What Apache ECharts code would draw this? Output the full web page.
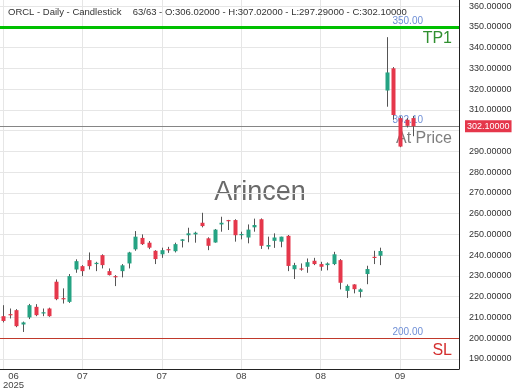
<!DOCTYPE html>
<html><head><meta charset="utf-8">
<script src="https://cdn.jsdelivr.net/npm/echarts@6/dist/echarts.min.js"></script>
<style>html,body{margin:0;padding:0;background:#fff}#c{width:520px;height:390px}</style>
</head><body><div id="c"></div>
<script>
// ---- data ----
const opens  = [210.6,211.6,213.5,206.6,210.0,215.1,211.9,214.3,227.2,219.3,217.5,233.1,234.7,237.6,235.7,240.0,232.3,229.9,232.3,236.0,
                242.8,248.3,246.0,242.1,240.4,242.9,241.9,246.9,249.6,250.0,255.6,248.1,246.1,254.8,256.9,256.9,249.6,248.5,253.4,257.3,
                244.1,246.9,246.5,249.3,233.2,233.6,234.4,237.3,235.7,235.2,235.7,237.6,222.8,225.9,222.3,230.9,239.2,239.7,319.3,330.0,
                306.0,305.2,306.02];
const highs  = [215.9,214.3,214.0,208.0,216.5,216.4,214.3,214.7,228.3,224.0,230.9,238.0,235.2,241.3,236.8,240.4,233.6,230.4,235.7,241.6,
                251.6,250.0,246.8,242.4,243.6,244.0,246.0,247.7,253.2,251.3,260.4,248.6,252.6,258.5,257.0,257.3,251.3,254.8,257.6,257.7,
                248.9,250.5,248.9,249.7,236.3,236.0,238.4,238.7,236.8,236.5,241.6,238.1,225.9,226.0,224.0,234.9,242.1,243.6,345.0,330.6,
                306.9,306.0,307.02];
const lows   = [207.6,209.5,205.3,203.0,209.2,210.6,210.6,210.3,218.3,216.7,217.0,231.5,229.9,233.1,232.3,233.6,230.2,225.1,229.3,233.6,
                242.1,244.9,242.9,235.7,238.7,241.1,241.3,243.7,246.2,246.0,253.4,242.4,246.0,251.3,252.1,246.5,247.6,245.7,251.3,243.0,
                242.8,243.5,243.8,232.3,228.5,232.5,231.5,235.2,232.5,232.7,235.2,223.5,219.4,221.6,219.6,226.0,235.7,235.2,311.5,305.2,
                292.0,301.5,297.29];
const closes = [208.3,211.3,205.8,207.6,215.9,211.1,212.5,210.6,218.8,219.0,229.9,237.1,232.3,234.7,236.3,235.2,230.4,229.4,235.1,241.3,
                248.9,245.3,243.6,238.1,242.4,242.4,245.3,247.6,250.5,250.8,254.0,244.5,252.3,255.6,256.6,249.6,250.2,252.3,254.5,244.5,
                244.9,248.5,248.9,234.8,235.2,233.1,236.6,235.7,234.4,236.0,240.4,226.7,225.2,223.6,223.5,233.3,238.7,242.0,328.0,307.5,
                292.3,302.3,302.10];
const tickIndex = [0, 12, 24, 36, 48, 60];
const tickText  = ['06', '07', '07', '08', '08', '09'];
const firstYear = '2025';
const levelValues = [350, 200];
const levelNames  = ['TP1', 'SL'];
const priceName   = 'At Price';
const symbolName  = 'ORCL';
const periodName  = 'Daily';
const chartKind   = 'Candlestick';
const watermark   = 'Arincen';

// ---- derived ----
const n = closes.length;
const last = n - 1;
const lastPrice = closes[last];
const candleData = closes.map((c, i) => [i, opens[i], c, lows[i], highs[i]]);
const f5 = v => v.toFixed(5);
const infoText = `${n}/${n} - O:${f5(opens[last])} - H:${f5(highs[last])} - L:${f5(lows[last])} - C:${f5(lastPrice)}`;

const FONT = 'Liberation Sans';
const GREEN = '#25a383', RED = '#e5374b', WICK = '#555';

function renderCandle(params, api) {
  const i = api.value(0), o = api.value(1), c = api.value(2), l = api.value(3), h = api.value(4);
  const pO = api.coord([i, o]), pC = api.coord([i, c]), pL = api.coord([i, l]), pH = api.coord([i, h]);
  const cx = Math.round(pO[0]);
  const top = Math.min(pO[1], pC[1]), bot = Math.max(pO[1], pC[1]);
  return {
    type: 'group',
    children: [
      { type: 'line', shape: { x1: cx + 0.5, y1: pH[1], x2: cx + 0.5, y2: pL[1] }, style: { stroke: WICK, lineWidth: 1 } },
      { type: 'rect', shape: { x: cx - 1.5, y: top, width: 4, height: Math.max(bot - top, 1.2) },
        style: { fill: c >= o ? GREEN : RED } }
    ]
  };
}

// label-only items get a fully transparent stroke (labels stay visible)
const CLEAR = 'rgba(0,0,0,0)';

function levelSeries(v, name, lineColor, nameColor, lineWidth, extra) {
  const items = [
    { yAxis: v, lineStyle: { color: lineColor, width: lineWidth, type: 'solid' },
      label: { show: true, position: 'insideEndTop', formatter: v.toFixed(2),
        color: '#6f8fd6', fontSize: 10, fontFamily: FONT, distance: [36, 1] } },
    { yAxis: v, lineStyle: { color: CLEAR, width: 1, type: 'solid' },
      label: { show: true, position: 'insideEndBottom', formatter: name,
        color: nameColor, fontSize: 16, fontFamily: FONT, distance: [7, 4] } }
  ];
  if (extra) items.push(extra);
  return {
    type: 'line', data: [], silent: true, color: lineColor,
    markLine: { silent: true, symbol: ['none', 'none'], animation: false, data: items }
  };
}

const priceTag = { yAxis: lastPrice, lineStyle: { color: CLEAR, width: 1, type: 'solid' },
  label: { show: true, position: 'end', formatter: f5(lastPrice), color: '#fff', backgroundColor: RED,
    fontSize: 9, fontFamily: FONT, padding: [2, 2, 1, 2], distance: [6, 0] } };

const chart = echarts.init(document.getElementById('c'), null, { renderer: 'canvas' });
chart.setOption({
  animation: false,
  backgroundColor: '#fff',
  title: [
    { text: `${symbolName} - ${periodName} - ${chartKind}`, left: 8, top: 7, padding: 0,
      textStyle: { fontSize: 9.5, fontWeight: 'normal', color: '#333', fontFamily: FONT } },
    { text: infoText, left: 132.7, top: 7, padding: 0,
      textStyle: { fontSize: 9.5, fontWeight: 'normal', color: '#333', fontFamily: FONT } }
  ],
  graphic: [
    { type: 'text', x: 260, y: 193, z: 0, silent: true,
      style: { text: watermark, fontSize: 27, fontFamily: FONT, fill: '#6a6a6a', align: 'center', verticalAlign: 'middle' } }
  ],
  grid: { left: 0, right: 61, top: 0, bottom: 21, containLabel: false, outerBoundsMode: 'none' },
  xAxis: {
    type: 'value', min: -0.453, max: 68.91, minInterval: 12, maxInterval: 12, splitNumber: 6,
    axisLine: { show: true, onZero: false, lineStyle: { color: '#222', width: 1 } },
    axisTick: { show: false },
    splitLine: { show: true, showMinLine: false, showMaxLine: false, lineStyle: { color: '#e6e6e6', width: 1 } },
    axisLabel: {
      margin: 3, fontSize: 9.5, lineHeight: 9, color: '#444', fontFamily: FONT,
      showMinLabel: false, showMaxLabel: false,
      formatter: v => {
        const k = tickIndex.indexOf(Math.round(v));
        if (k < 0 || Math.abs(v - Math.round(v)) > 1e-6) return '';
        if (k === 0) return `{s|${tickText[0]}}\n{s|${firstYear}}`;
        return tickText[k];
      },
      rich: { s: { padding: [0, 0, 0, 21], fontSize: 9.5, lineHeight: 9, color: '#444', fontFamily: FONT } }
    }
  },
  yAxis: {
    type: 'value', position: 'right', min: 185.16, max: 362.9, minInterval: 10, maxInterval: 10, splitNumber: 18,
    axisLine: { show: true, onZero: false, lineStyle: { color: '#222', width: 1 } },
    axisTick: { show: false },
    splitLine: { show: true, showMinLine: false, showMaxLine: false, lineStyle: { color: '#e6e6e6', width: 1 } },
    axisLabel: {
      margin: 10, fontSize: 9, color: '#333', fontFamily: FONT,
      formatter: v => (Math.abs(v / 10 - Math.round(v / 10)) < 1e-6 && Math.abs(v - lastPrice) > 6) ? v.toFixed(5) : ''
    }
  },
  series: [
    levelSeries(levelValues[0], levelNames[0], '#00c000', '#2f8f2f', 3),
    levelSeries(levelValues[1], levelNames[1], '#c0392b', '#d42f2f', 1),
    levelSeries(lastPrice, priceName, '#858585', '#7d7d7d', 1, priceTag),
    { type: 'custom', z: 10, renderItem: renderCandle, data: candleData, encode: { x: 0, y: [1, 2, 3, 4] }, clip: false }
  ]
});
</script>
</body></html>
